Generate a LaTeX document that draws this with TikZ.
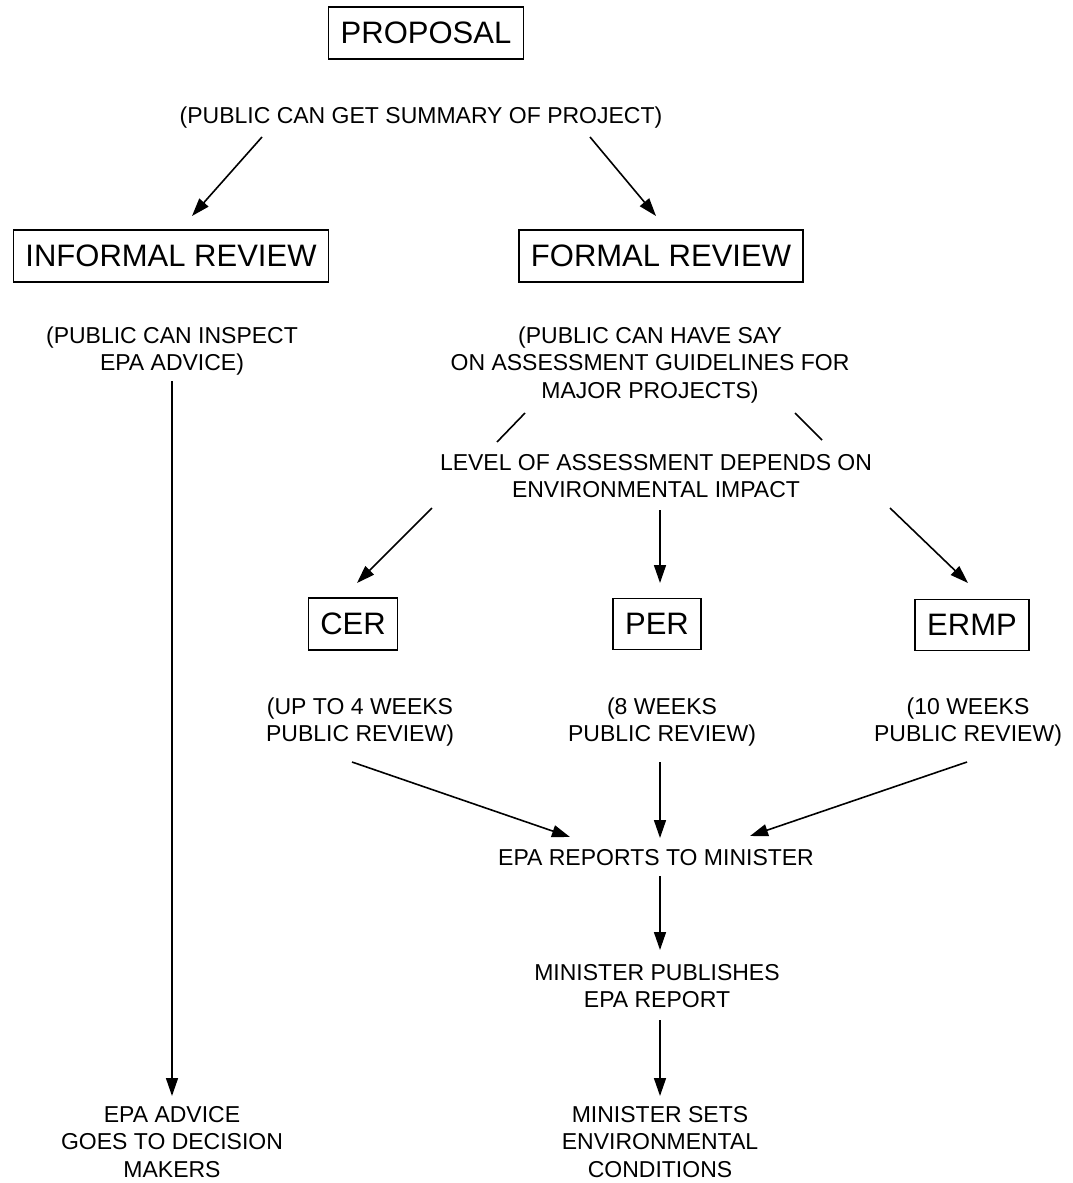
\documentclass[tikz,border=0pt]{standalone}
\usepackage{fontspec}
\setmainfont{Liberation Sans}
\usetikzlibrary{arrows.meta}
\begin{document}
\begin{tikzpicture}[x=1pt,y=-1pt,
  box/.style={draw,line width=1.5pt,inner xsep=12pt,inner ysep=15pt,font=\fontsize{31}{36}\selectfont},
  txt/.style={align=center,font=\fontsize{23}{27.5}\selectfont,inner sep=0pt},
  arr/.style={line width=1.6pt,-{Triangle[length=18pt,width=12pt]}},
  ln/.style={line width=1.6pt}]
\useasboundingbox[fill=white] (0,0) rectangle (1072,1183);
\node[box] (prop) at (426,33) {PROPOSAL};
\node[txt] (sum) at (421,118) {(PUBLIC CAN GET SUMMARY OF PROJECT)};
\node[box] (inf) at (171,256) {INFORMAL REVIEW};
\node[box] (form) at (661,256) {FORMAL REVIEW};
\coordinate (s1) at (262,137); \coordinate (e1) at (192,216);
\coordinate (s2) at (590,137); \coordinate (e2) at (656,216);
\draw[arr] (s1) -- (e1);
\draw[arr] (s2) -- (e2);
\node[txt] (insp) at (172,351) {(PUBLIC CAN INSPECT\\EPA ADVICE)};
\node[txt] (say) at (650,365) {(PUBLIC CAN HAVE SAY\\ON ASSESSMENT GUIDELINES FOR\\MAJOR PROJECTS)};
\coordinate (l1a) at (525,413); \coordinate (l1b) at (497,442);
\coordinate (l2a) at (795,413); \coordinate (l2b) at (822,440);
\draw[ln] (l1a) -- (l1b);
\draw[ln] (l2a) -- (l2b);
\node[txt] (lvl) at (656,476) {LEVEL OF ASSESSMENT DEPENDS ON\\ENVIRONMENTAL IMPACT};
\node[box] (cer) at (353,624) {CER};
\node[box] (per) at (657,624) {PER};
\node[box] (ermp) at (972,625) {ERMP};
\coordinate (a1) at (432,508); \coordinate (b1) at (357,583);
\coordinate (a2) at (660,510); \coordinate (b2) at (660,583);
\coordinate (a3) at (890,508); \coordinate (b3) at (968,583);
\draw[arr] (a1) -- (b1);
\draw[arr] (a2) -- (b2);
\draw[arr] (a3) -- (b3);
\node[txt] (w4) at (360,722) {(UP TO 4 WEEKS\\PUBLIC REVIEW)};
\node[txt] (w8) at (662,722) {(8 WEEKS\\PUBLIC REVIEW)};
\node[txt] (w10) at (968,722) {(10 WEEKS\\PUBLIC REVIEW)};
\node[txt] (rep) at (656,858) {EPA REPORTS TO MINISTER};
\coordinate (c1) at (352,762); \coordinate (d1) at (570,837);
\coordinate (c2) at (660,762); \coordinate (d2) at (660,838);
\coordinate (c3) at (967,762); \coordinate (d3) at (750,836);
\draw[arr] (c1) -- (d1);
\draw[arr] (c2) -- (d2);
\draw[arr] (c3) -- (d3);
\node[txt] (pub) at (657,986) {MINISTER PUBLISHES\\EPA REPORT};
\node[txt] (cond) at (660,1142) {MINISTER SETS\\ENVIRONMENTAL\\CONDITIONS};
\node[txt] (adv) at (172,1142) {EPA ADVICE\\GOES TO DECISION\\MAKERS};
\coordinate (g1) at (660,876); \coordinate (h1) at (660,950);
\coordinate (g2) at (660,1020); \coordinate (h2) at (660,1096);
\coordinate (g3) at (172,381); \coordinate (h3) at (172,1096);
\draw[arr] (g1) -- (h1);
\draw[arr] (g2) -- (h2);
\draw[arr] (g3) -- (h3);
\end{tikzpicture}
\end{document}
